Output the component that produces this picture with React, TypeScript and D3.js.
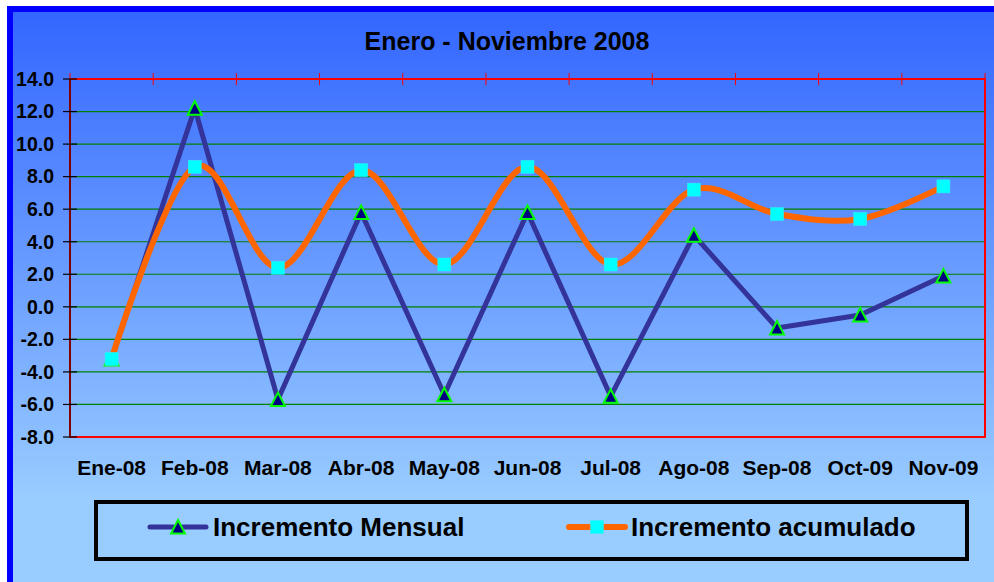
import React from "react";
import * as d3 from "d3";

const categories = ["Ene-08", "Feb-08", "Mar-08", "Abr-08", "May-08", "Jun-08", "Jul-08", "Ago-08", "Sep-08", "Oct-09", "Nov-09"];
const mensual = [-3.2, 12.2, -5.7, 5.8, -5.4, 5.8, -5.5, 4.4, -1.3, -0.5, 1.9];
const acumulado = [-3.2, 8.6, 2.4, 8.4, 2.6, 8.6, 2.6, 7.2, 5.7, 5.4, 7.4];
const yTicks = [14, 12, 10, 8, 6, 4, 2, 0, -2, -4, -6, -8];
const title = "Enero - Noviembre 2008";
const seriesNames = ["Incremento Mensual", "Incremento acumulado"];

const W = 994;
const H = 582;
const plot = { left: 70, right: 985, top: 79, bottom: 437 };
const FONT = "'Liberation Sans', Arial, sans-serif";

function Triangle({ cx, cy }: { cx: number; cy: number }) {
  const s = 7;
  const pts = `${cx},${cy - s} ${cx + s},${cy + s - 0.5} ${cx - s},${cy + s - 0.5}`;
  return <polygon points={pts} fill="#000080" stroke="#00FF00" strokeWidth={2} strokeLinejoin="miter" />;
}

function Square({ cx, cy }: { cx: number; cy: number }) {
  const s = 6.5;
  return <rect x={cx - s} y={cy - s} width={2 * s} height={2 * s} fill="#00FFFF" stroke="#33EEFF" strokeWidth={0.5} />;
}

export default function App() {
  const x = d3.scaleBand<string>().domain(categories).range([plot.left, plot.right]).padding(0);
  const y = d3.scaleLinear().domain([-8, 14]).range([plot.bottom, plot.top]);
  const cx = (i: number) => (x(categories[i]) as number) + x.bandwidth() / 2;

  const lineStraight = d3.line<number>().x((_, i) => cx(i)).y((d) => y(d));
  const lineSmooth = d3
    .line<number>()
    .x((_, i) => cx(i))
    .y((d) => y(d))
    .curve(d3.curveCardinal.tension(0));

  const boundaries = d3.range(categories.length + 1).map((i) => plot.left + i * x.bandwidth());

  return (
    <svg
      width={W}
      height={H}
      style={{ position: "fixed", left: 0, top: 0, display: "block" }}
      fontFamily={FONT}
    >
      <defs>
        <linearGradient id="bg" x1="0" y1="0" x2="0" y2="1">
          <stop offset="0" stopColor="#3366FF" />
          <stop offset="0.85" stopColor="#99CCFF" />
          <stop offset="1" stopColor="#99CCFF" />
        </linearGradient>
      </defs>
      <rect x={0} y={0} width={W} height={H} fill="#FFFFFF" />
      <rect x={13} y={12} width={W - 13} height={H - 12} fill="url(#bg)" />
      <rect x={7} y={6} width={W - 7} height={6} fill="#0000FF" />
      <rect x={7} y={6} width={6} height={H - 6} fill="#0000FF" />

      <text x={507} y={50} textAnchor="middle" fontSize={25} fontWeight="bold" fill="#000">
        {title}
      </text>

      {/* gridlines */}
      {yTicks
        .filter((t) => t !== 14 && t !== -8)
        .map((t) => (
          <line key={"g" + t} x1={plot.left} x2={plot.right} y1={y(t)} y2={y(t)} stroke="#008000" strokeWidth={1.2} />
        ))}

      {/* plot border */}
      <rect
        x={plot.left}
        y={plot.top}
        width={plot.right - plot.left}
        height={plot.bottom - plot.top}
        fill="none"
        stroke="#FF0000"
        strokeWidth={2}
      />
      {/* top category ticks */}
      {boundaries.map((b, i) => (
        <line key={"t" + i} x1={b} x2={b} y1={plot.top - 6} y2={plot.top + 6} stroke="#FF0000" strokeWidth={1} />
      ))}
      {/* left value axis */}
      <line x1={plot.left} x2={plot.left} y1={plot.top} y2={plot.bottom} stroke="#000" strokeWidth={1} />
      {yTicks.map((t) => (
        <g key={"y" + t}>
          <line x1={plot.left - 7} x2={plot.left + 7} y1={y(t)} y2={y(t)} stroke="#000" strokeWidth={1.2} />
          <text x={54} y={y(t)} dy="0.35em" textAnchor="end" fontSize={19.5} fontWeight="bold" fill="#000">
            {t.toFixed(1)}
          </text>
        </g>
      ))}

      {/* category labels */}
      {categories.map((c, i) => (
        <text key={c} x={cx(i)} y={475} textAnchor="middle" fontSize={21} fontWeight="bold" fill="#000">
          {c}
        </text>
      ))}

      {/* series */}
      <path d={lineStraight(mensual) || ""} fill="none" stroke="#333399" strokeWidth={5} strokeLinejoin="round" />
      {mensual.map((v, i) => (
        <Triangle key={"m" + i} cx={cx(i)} cy={y(v)} />
      ))}
      <path d={lineSmooth(acumulado) || ""} fill="none" stroke="#FF6600" strokeWidth={6} strokeLinecap="round" />
      {acumulado.map((v, i) => (
        <Square key={"a" + i} cx={cx(i)} cy={y(v)} />
      ))}

      {/* legend */}
      <rect x={96} y={502} width={871} height={57} fill="none" stroke="#000" strokeWidth={4} />
      <line x1={150} x2={206} y1={527} y2={527} stroke="#333399" strokeWidth={5} strokeLinecap="round" />
      <Triangle cx={178} cy={527} />
      <text x={213} y={536} fontSize={26} fontWeight="bold" fill="#000">
        {seriesNames[0]}
      </text>
      <line x1={569} x2={625} y1={527} y2={527} stroke="#FF6600" strokeWidth={6} strokeLinecap="round" />
      <Square cx={597} cy={527} />
      <text x={631} y={536} fontSize={26} fontWeight="bold" fill="#000">
        {seriesNames[1]}
      </text>
    </svg>
  );
}
